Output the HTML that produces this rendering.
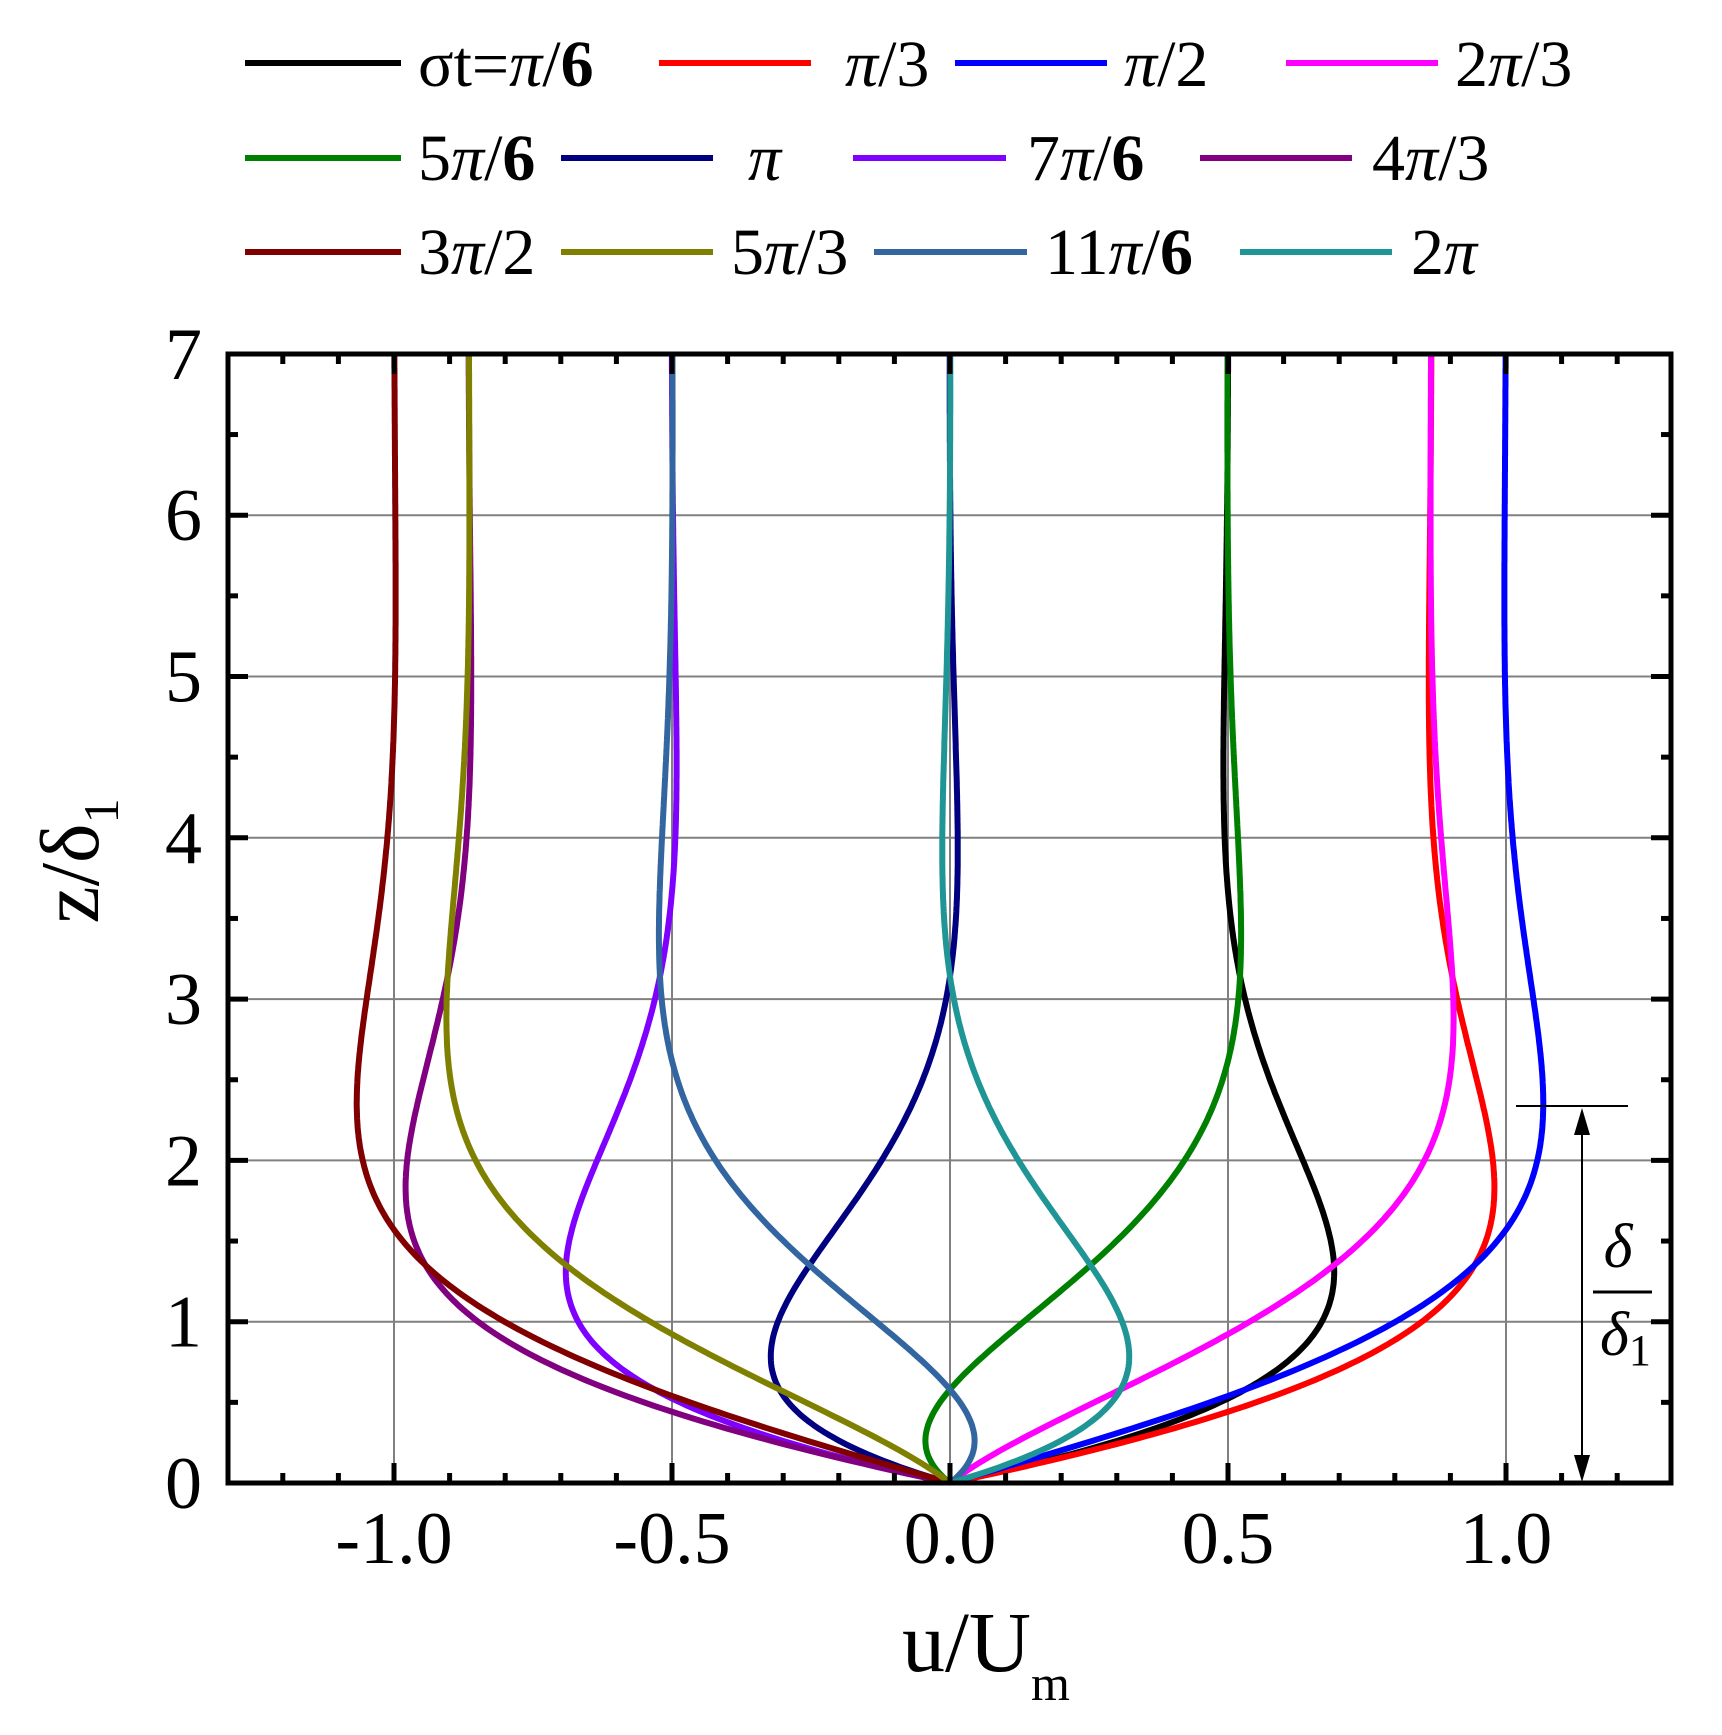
<!DOCTYPE html>
<html><head><meta charset="utf-8"><style>
html,body{margin:0;padding:0;background:#fff;}
svg{display:block;}
text{font-family:"Liberation Serif",serif;fill:#000;}
</style></head><body>
<svg id="s" width="1722" height="1735" viewBox="0 0 1722 1735" xmlns="http://www.w3.org/2000/svg">
<defs><clipPath id="cp"><rect x="228" y="354" width="1443" height="1129"/></clipPath></defs>
<g id="grid" stroke="#808080" stroke-width="2"></g>
<g id="curves" fill="none" stroke-width="6" stroke-linejoin="round" clip-path="url(#cp)"></g>
<g id="ticks" stroke="#000" stroke-width="5"></g>
<rect x="228" y="354" width="1443" height="1129" fill="none" stroke="#000" stroke-width="5"/>
<g id="labels" font-size="74"></g>
<g font-size="66" stroke-width="5">
<line x1="245" y1="63" x2="401" y2="63" stroke="#000" stroke-width="6"/>
<text x="418" y="86">σt=<tspan font-style="italic">π</tspan>/<tspan font-weight="bold">6</tspan></text>
<line x1="659" y1="63" x2="811" y2="63" stroke="#ff0000" stroke-width="6"/>
<text x="845" y="86"><tspan font-style="italic">π</tspan>/3</text>
<line x1="955" y1="63" x2="1107" y2="63" stroke="#0000ff" stroke-width="6"/>
<text x="1124" y="86"><tspan font-style="italic">π</tspan>/2</text>
<line x1="1286" y1="63" x2="1438" y2="63" stroke="#ff00ff" stroke-width="6"/>
<text x="1455" y="86">2<tspan font-style="italic">π</tspan>/3</text>

<line x1="245" y1="158" x2="401" y2="158" stroke="#008000" stroke-width="6"/>
<text x="418" y="180">5<tspan font-style="italic">π</tspan>/<tspan font-weight="bold">6</tspan></text>
<line x1="561" y1="158" x2="713" y2="158" stroke="#000080" stroke-width="6"/>
<text x="748" y="180"><tspan font-style="italic">π</tspan></text>
<line x1="853" y1="158" x2="1006" y2="158" stroke="#8000ff" stroke-width="6"/>
<text x="1027" y="180">7<tspan font-style="italic">π</tspan>/<tspan font-weight="bold">6</tspan></text>
<line x1="1200" y1="158" x2="1352" y2="158" stroke="#800080" stroke-width="6"/>
<text x="1372" y="180">4<tspan font-style="italic">π</tspan>/3</text>

<line x1="245" y1="252" x2="401" y2="252" stroke="#800000" stroke-width="6"/>
<text x="418" y="274">3<tspan font-style="italic">π</tspan>/2</text>
<line x1="561" y1="252" x2="713" y2="252" stroke="#808000" stroke-width="6"/>
<text x="731" y="274">5<tspan font-style="italic">π</tspan>/3</text>
<line x1="874" y1="252" x2="1027" y2="252" stroke="#3366a0" stroke-width="6"/>
<text x="1045" y="274">11<tspan font-style="italic">π</tspan>/<tspan font-weight="bold">6</tspan></text>
<line x1="1240" y1="252" x2="1392" y2="252" stroke="#209595" stroke-width="6"/>
<text x="1411" y="274">2<tspan font-style="italic">π</tspan></text>
</g>
<line x1="1516" y1="1106" x2="1628" y2="1106" stroke="#000" stroke-width="2"/>
<line x1="1582" y1="1120" x2="1582" y2="1470" stroke="#000" stroke-width="2"/>
<polygon points="1582,1108 1574,1135 1590,1135" fill="#000"/>
<polygon points="1582,1482 1574,1455 1590,1455" fill="#000"/>
<line x1="1593" y1="1292" x2="1652" y2="1292" stroke="#000" stroke-width="3"/>
<text x="1618" y="1267" font-size="62" font-style="italic" text-anchor="middle">δ</text>
<text x="1600" y="1355" font-size="62" font-style="italic">δ<tspan font-style="normal" font-size="44" dy="10">1</tspan></text>
<text x="902" y="1671" font-size="86">u/U<tspan font-size="50" dy="29">m</tspan></text>
<text transform="translate(98,861) rotate(-90)" font-size="84" text-anchor="middle">z/δ<tspan font-size="50" dy="20">1</tspan></text>
</svg>
<script>
(function(){
var NS="http://www.w3.org/2000/svg";
function X(u){return 950+556*u;}
function Y(z){return 1483-161.3*z;}
function el(p,t,a){var e=document.createElementNS(NS,t);for(var k in a)e.setAttribute(k,a[k]);p.appendChild(e);return e;}
var grid=document.getElementById('grid'),ticks=document.getElementById('ticks'),lab=document.getElementById('labels'),cur=document.getElementById('curves');
[-1,-0.5,0,0.5,1].forEach(function(u){el(grid,'line',{x1:X(u),y1:354,x2:X(u),y2:1483});});
for(var z=1;z<=6;z++)el(grid,'line',{x1:228,y1:Y(z),x2:1671,y2:Y(z)});
for(var i=-12;i<=12;i++){var u=i/10,x=X(u);if(x<230||x>1669)continue;var maj=(i%5===0);var L=maj?20:10;
el(ticks,'line',{x1:x,y1:1483,x2:x,y2:1483-L});el(ticks,'line',{x1:x,y1:354,x2:x,y2:354+L});}
for(var k=1;k<14;k++){var zz=k/2,y=Y(zz),maj=(k%2===0),L=maj?20:10;
el(ticks,'line',{x1:228,y1:y,x2:228+L,y2:y});el(ticks,'line',{x1:1671,y1:y,x2:1671-L,y2:y});}
for(var z=0;z<=7;z++){var t=el(lab,'text',{x:202,y:Y(z)+25,'text-anchor':'end'});t.textContent=String(z);}
[[-1,'-1.0'],[-0.5,'-0.5'],[0,'0.0'],[0.5,'0.5'],[1,'1.0']].forEach(function(p){var t=el(lab,'text',{x:X(p[0]),y:1563,'text-anchor':'middle'});t.textContent=p[1];});
var cols=['#000000','#ff0000','#0000ff','#ff00ff','#008000','#000080','#8000ff','#800080','#800000','#808000','#3366a0','#209595'];
for(var n=1;n<=12;n++){var ph=n*Math.PI/6,d='';
for(var j=0;j<=360;j++){var zz=j*0.02;var u=Math.sin(ph)-Math.exp(-zz)*Math.sin(ph-zz);
d+=(j?'L':'M')+X(u).toFixed(1)+' '+Y(zz).toFixed(1);}
el(cur,'path',{d:d,stroke:cols[n-1]});}
})();
</script>
</body></html>
